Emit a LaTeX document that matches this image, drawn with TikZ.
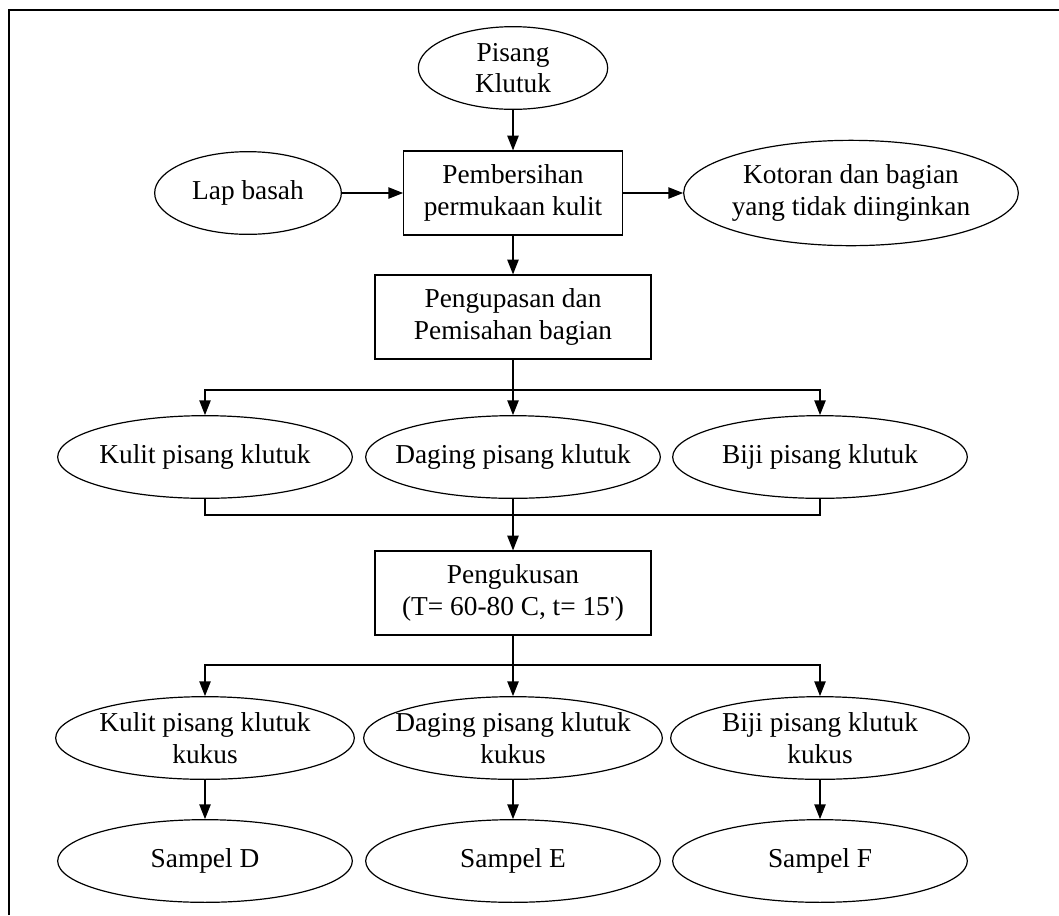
\documentclass[tikz,border=0pt]{standalone}
\usepackage{fontspec}
\setmainfont{Liberation Serif}
\usetikzlibrary{shapes.geometric, arrows.meta}

\begin{document}
\begin{tikzpicture}[x = 0.75pt, y = -0.75pt, line width = 0.9pt,
        font = \fontsize{20.5}{23.6}\selectfont,
        oval/.style = {draw, ellipse, inner xsep = -20pt, inner ysep = -3pt, align = center,
            minimum width = 221pt, minimum height = 62pt},
        proses/.style = {draw, rectangle, inner sep = 0pt, align = center,
            minimum width = 207pt, minimum height = 63pt},
        panah/.style = {-{Triangle[length = 11pt, width = 8.5pt]}}]
        \useasboundingbox (0, 0) rectangle (1059, 915);
        \draw[line width = 1.1pt] (9, 915) -- (9, 10) -- (1059, 10);

        % bahan dan pembersihan
        \node[oval, minimum width = 142pt] (pisang) at (513, 68) {Pisang\\Klutuk};
        \node[proses, minimum width = 164pt] (bersih) at (513, 193) {Pembersihan\\permukaan kulit};
        \node[oval, minimum width = 140pt] (lap) at (248, 193) {Lap basah};
        \node[oval, minimum width = 251pt, minimum height = 79pt] (kotoran) at (851, 193) {Kotoran dan bagian\\yang tidak diinginkan};
        \node[proses] (kupas) at (513, 317) {Pengupasan dan\\Pemisahan bagian};

        % bagian buah
        \node[oval] (kulit) at (205, 457) {Kulit pisang klutuk};
        \node[oval] (daging) at (513, 457) {Daging pisang klutuk};
        \node[oval] (biji) at (820, 457) {Biji pisang klutuk};
        \node[proses] (kukus) at (513, 593) {Pengukusan\\(T= 60-80 C, t= 15\textquotesingle)};

        % hasil kukus dan sampel
        \node[oval, minimum width = 224pt] (kulitk) at (205, 738) {Kulit pisang klutuk\\kukus};
        \node[oval, minimum width = 224pt] (dagingk) at (513, 738) {Daging pisang klutuk\\kukus};
        \node[oval, minimum width = 224pt] (bijik) at (820, 738) {Biji pisang klutuk\\kukus};
        \node[oval] (sampeld) at (205, 861) {Sampel D};
        \node[oval] (sampele) at (513, 861) {Sampel E};
        \node[oval] (sampelf) at (820, 861) {Sampel F};

        \coordinate (cabang1) at (513, 390);
        \coordinate (gabung) at (513, 515);
        \coordinate (cabang2) at (513, 665);

        \draw[panah] (pisang) -- (bersih);
        \draw[panah] (lap) -- (bersih);
        \draw[panah] (bersih) -- (kotoran);
        \draw[panah] (bersih) -- (kupas);

        \draw[panah] (kupas) -- (daging);
        \draw[panah] (cabang1) -| (kulit);
        \draw[panah] (cabang1) -| (biji);

        \draw (kulit) |- (gabung);
        \draw (biji) |- (gabung);
        \draw[panah] (daging) -- (kukus);

        \draw[panah] (kukus) -- (dagingk);
        \draw[panah] (cabang2) -| (kulitk);
        \draw[panah] (cabang2) -| (bijik);

        \draw[panah] (kulitk) -- (sampeld);
        \draw[panah] (dagingk) -- (sampele);
        \draw[panah] (bijik) -- (sampelf);
\end{tikzpicture}
\end{document}
